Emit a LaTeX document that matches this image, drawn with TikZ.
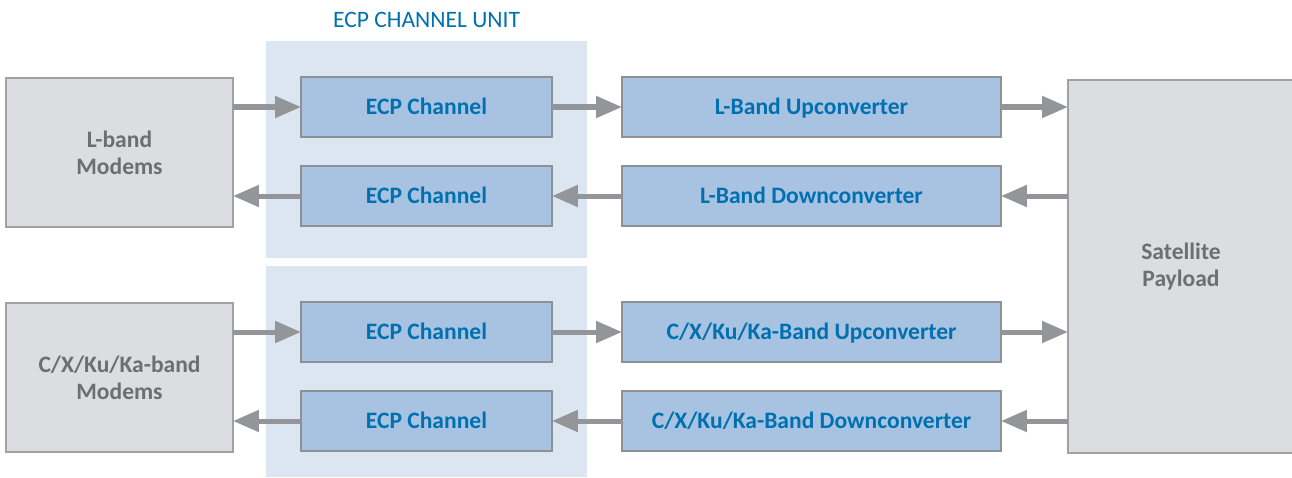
\documentclass[tikz,border=0pt]{standalone}
\usepackage{fontspec}
\setmainfont{Carlito}
\usepackage{xcolor}
\usetikzlibrary{arrows.meta,positioning}
\definecolor{unitbg}{HTML}{DCE6F2}
\definecolor{chanfill}{HTML}{A7C3E1}
\definecolor{boxline}{HTML}{8E9094}
\definecolor{greyfill}{HTML}{DCDDE0}
\definecolor{greyline}{HTML}{A0A1A4}
\definecolor{chantext}{HTML}{0070B0}
\definecolor{greytext}{HTML}{6D6E71}
\definecolor{arrowgrey}{HTML}{939598}

\begin{document}
\begin{tikzpicture}[x=0.02cm,y=-0.02cm]
\tikzstyle{unit}=[fill=unitbg, inner sep=0, outer sep=0]
\tikzstyle{chan}=
[
	draw=boxline, fill=chanfill, line width=1.6pt,
	outer sep=0, text=chantext, text height=8.6pt, text depth=0pt,
	font=\bfseries\fontsize{13.4}{15.4}\selectfont
]
\tikzstyle{side}=
[
	draw=greyline, fill=greyfill, line width=1.6pt,
	outer sep=0, text=greytext, align=center,
	font=\bfseries\fontsize{13.4}{15.4}\selectfont
]
\tikzstyle{flow}=[draw=arrowgrey, line width=2.85pt, -{Triangle[length=0.52cm,width=0.42cm]}]

\useasboundingbox (0,0) rectangle (1292,477);

\node[unit, minimum width=6.42cm, minimum height=4.34cm] (unita) at (426.5,149.5) {};
\node[unit, minimum width=6.42cm, minimum height=4.22cm] (unitb) at (426.5,371.5) {};
\node[text=chantext, font=\fontsize{13.4}{15.4}\selectfont] (title) at (426.5,20) {ECP CHANNEL UNIT};

\node[side, minimum width=4.54cm, minimum height=2.98cm] (modl) at (119.5,152.5) {L-band\\Modems};
\node[side, minimum width=4.54cm, minimum height=2.98cm] (modc) at (119.5,377.5) {C/X/Ku/Ka-band\\Modems};
\node[side, minimum width=4.52cm, minimum height=7.46cm] (pay) at (1181,266.5) {Satellite\\Payload};

\node[chan, minimum width=5.02cm, minimum height=1.2cm] (ecpa) at (426.5,107) {ECP Channel};
\node[chan, minimum width=5.02cm, minimum height=1.2cm] (ecpb) at (426.5,196) {ECP Channel};
\node[chan, minimum width=5.02cm, minimum height=1.2cm] (ecpc) at (426.5,332) {ECP Channel};
\node[chan, minimum width=5.02cm, minimum height=1.2cm] (ecpd) at (426.5,421) {ECP Channel};

\node[chan, minimum width=7.58cm, minimum height=1.2cm] (upl) at (811.5,107) {L-Band Upconverter};
\node[chan, minimum width=7.58cm, minimum height=1.2cm] (dnl) at (811.5,196) {L-Band Downconverter};
\node[chan, minimum width=7.58cm, minimum height=1.2cm] (upc) at (811.5,332) {C/X/Ku/Ka-Band Upconverter};
\node[chan, minimum width=7.58cm, minimum height=1.2cm] (dnc) at (811.5,421) {C/X/Ku/Ka-Band Downconverter};

\draw[flow] (modl.east |- ecpa.west) -- (ecpa.west);
\draw[flow] (ecpa.east) -- (upl.west);
\draw[flow] (upl.east) -- (pay.west |- upl.east);
\draw[flow] (pay.west |- dnl.east) -- (dnl.east);
\draw[flow] (dnl.west) -- (ecpb.east);
\draw[flow] (ecpb.west) -- (modl.east |- ecpb.west);

\draw[flow] (modc.east |- ecpc.west) -- (ecpc.west);
\draw[flow] (ecpc.east) -- (upc.west);
\draw[flow] (upc.east) -- (pay.west |- upc.east);
\draw[flow] (pay.west |- dnc.east) -- (dnc.east);
\draw[flow] (dnc.west) -- (ecpd.east);
\draw[flow] (ecpd.west) -- (modc.east |- ecpd.west);
\end{tikzpicture}
\end{document}
